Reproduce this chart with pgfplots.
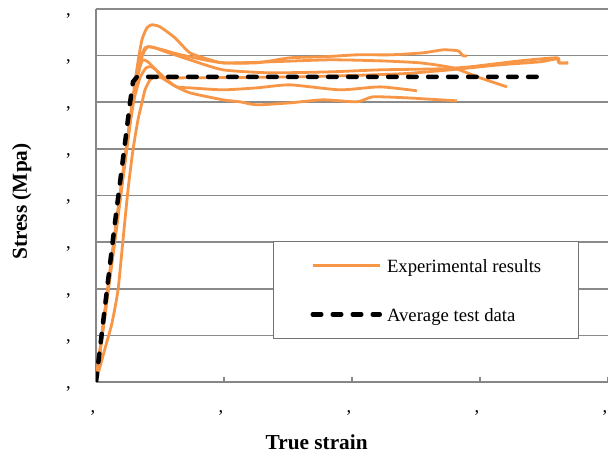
\documentclass[border=0pt]{standalone}
\usepackage{pgfplots}
\pgfplotsset{compat=1.18}
\usepackage{fontspec}
\setmainfont{Liberation Serif}
\definecolor{expor}{RGB}{247,150,70}
\definecolor{axgray}{RGB}{134,134,134}
\definecolor{gridgray}{RGB}{138,138,138}
\newcommand\cm{,}
\begin{document}
\begin{tikzpicture}
\begin{axis}[
  name=ax, scale only axis, width=512bp, height=373bp,
  xmin=0, xmax=4, ymin=0, ymax=8,
  axis x line=bottom, axis y line=left,
  axis line style={-, draw=axgray, line width=2bp},
  xtick={0,1,2,3,4}, ytick={0,1,2,3,4,5,6,7,8},
  xticklabel={\cm}, yticklabel={\vphantom{0}\cm},
  tick align=inside, major tick length=5bp,
  ytick style={draw=none},
  xtick style={draw=axgray, line width=2bp},
  ymajorgrids, grid style={draw=gridgray, line width=1.6bp},
  ticklabel style={font=\fontsize{18.7bp}{22bp}\selectfont, inner sep=0pt},
  yticklabel style={anchor=east, xshift=-25bp, yshift=-1.5bp},
  xticklabel style={anchor=base, xshift=-3bp, yshift=-31bp},
  xlabel={True strain}, ylabel={Stress (Mpa)},
  xlabel style={at={(axis description cs:0.431,-0.1823)}, anchor=base, inner sep=0pt, font=\fontsize{21.3bp}{25bp}\selectfont\bfseries},
  ylabel style={at={(axis description cs:-0.1348,0.484)}, anchor=base, rotate=0, inner sep=0pt, font=\fontsize{21.3bp}{25bp}\selectfont\bfseries},
  legend style={at={(axis description cs:0.3457,0.378)}, anchor=north west,
    draw=black!55, line width=1bp, fill=white,
    inner xsep=37bp, inner ysep=13bp, row sep=27bp,
    font=\fontsize{18.7bp}{22bp}\selectfont,
    nodes={inner sep=0pt, text height=18bp, text depth=4bp},
    /tikz/every odd column/.append style={column sep=5bp}},
  legend cell align=left,
  legend image code/.code={\draw[#1] (0bp,0bp) -- (67bp,0bp);},
]
\pgfplotsset{exp/.style={draw=expor, line width=2.8bp, smooth, tension=0.35, line join=round}}
\addplot[exp] coordinates {(0,0)(0.078,1.652)(0.172,3.584)(0.25,5.193)(0.297,6.266)(0.328,6.867)(0.359,7.339)(0.398,7.597)(0.4375,7.661)(0.5,7.618)(0.617,7.382)(0.734,7.060)(0.891,6.910)(0.992,6.845)(1.258,6.845)(1.516,6.953)(1.773,6.974)(2.039,7.017)(2.297,7.017)(2.555,7.060)(2.711,7.124)(2.828,7.103)(2.867,6.996)(2.898,6.996)};
\addlegendentry{Experimental results}
\addplot[exp, forget plot] coordinates {(0,0)(0.0625,1.330)(0.148,3.155)(0.227,4.764)(0.281,5.944)(0.320,6.588)(0.352,6.974)(0.383,7.167)(0.422,7.189)(0.523,7.124)(0.602,7.060)(0.734,6.974)(0.992,6.845)(1.359,6.867)(1.828,6.910)(2.219,6.888)(2.531,6.845)(2.789,6.738)(3.0,6.524)(3.211,6.330)};
\addplot[exp, forget plot] coordinates {(0,0)(0.070,1.502)(0.156,3.305)(0.234,4.979)(0.289,6.052)(0.336,6.781)(0.375,7.082)(0.406,7.189)(0.461,7.167)(0.523,7.103)(0.734,6.910)(0.992,6.695)(1.359,6.631)(1.828,6.652)(2.219,6.695)(2.688,6.717)(2.922,6.760)(3.313,6.888)(3.602,6.953)(3.617,6.845)(3.688,6.845)};
\addplot[exp, forget plot] coordinates {(0,0)(0.078,1.588)(0.164,3.369)(0.242,5.086)(0.297,6.052)(0.344,6.524)(0.391,6.738)(0.430,6.760)(0.469,6.695)(0.516,6.524)(0.633,6.330)(0.734,6.309)(0.992,6.266)(1.258,6.309)(1.516,6.373)(1.906,6.266)(2.219,6.330)(2.508,6.245)};
\addplot[exp, forget plot] coordinates {(0,0)(0.070,1.545)(0.148,3.219)(0.219,4.657)(0.273,5.730)(0.3125,6.373)(0.344,6.760)(0.367,6.910)(0.406,6.867)(0.477,6.674)(0.602,6.373)(0.734,6.202)(0.992,6.052)(1.125,6.009)(1.258,5.944)(1.516,5.987)(1.773,6.052)(2.039,6.009)(2.164,6.116)(2.430,6.094)(2.820,6.030)};
\addplot[exp, forget plot] coordinates {(0,0)(0.031,0.322)(0.078,0.794)(0.125,1.266)(0.172,1.974)(0.211,3.047)(0.25,4.120)(0.289,4.979)(0.328,5.622)(0.359,5.987)(0.383,6.266)(0.422,6.481)(0.461,6.545)(0.516,6.524)(0.734,6.524)(1.594,6.545)(2.375,6.609)(2.766,6.695)(3.156,6.803)(3.469,6.867)(3.602,6.931)(3.617,6.845)(3.688,6.845)};
\addplot[draw=black, line width=4.5bp, line cap=round, dash pattern=on 8.5bp off 11.5bp] coordinates {(0,0)(0.148,3.412)(0.266,5.987)(0.289,6.438)(0.320,6.545)(3.508,6.545)};
\addlegendentry{Average test data}
\end{axis}
\pgfresetboundingbox
\path ([shift={(-96bp,-72bp)}]ax.south west) rectangle ([shift={(0bp,9bp)}]ax.north east);
\end{tikzpicture}
\end{document}
